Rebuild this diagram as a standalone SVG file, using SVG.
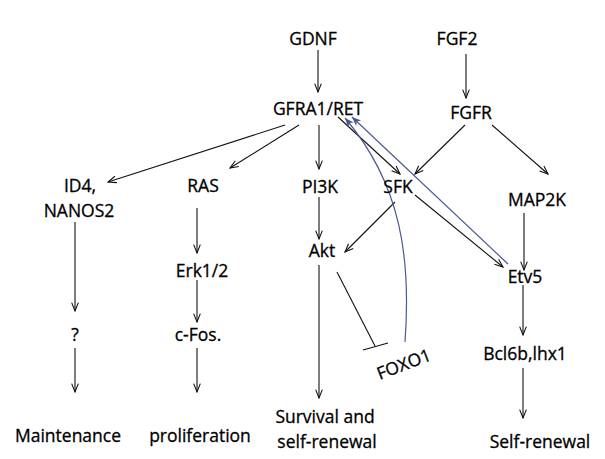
<svg xmlns="http://www.w3.org/2000/svg" width="605" height="459" viewBox="0 0 605 459">
<defs>
<marker id="ah" viewBox="0 0 12 12" refX="11" refY="6" markerWidth="10" markerHeight="10" markerUnits="userSpaceOnUse" orient="auto">
<path d="M1,2 L11,6 L1,10" fill="none" stroke="#111" stroke-width="1.3"/>
</marker>
<marker id="bh" viewBox="0 0 12 12" refX="11" refY="6" markerWidth="10" markerHeight="10" markerUnits="userSpaceOnUse" orient="auto">
<path d="M0,1.5 L11,6 L0,10.5 L3,6 Z" fill="#4a5a94"/>
</marker>
</defs>
<style>
text{font-family:"Open Sans","Liberation Sans",sans-serif;font-size:17.5px;fill:#000;stroke:#000;stroke-width:0.3;text-anchor:middle}
.c line,.c path{stroke:#111;stroke-width:1.1;fill:none}
.c .a{marker-end:url(#ah)}
.c .b{stroke:#4a5a94;stroke-width:1.2;marker-end:url(#bh)}
</style>
<g class="c" id="connectors">
<line class="a" x1="318" y1="50" x2="318" y2="92"/>
<line class="a" x1="466" y1="54" x2="466" y2="98"/>
<line class="a" x1="285" y1="125" x2="108" y2="182"/>
<line class="a" x1="299" y1="125" x2="230" y2="168"/>
<line class="a" x1="319" y1="125" x2="319" y2="169"/>
<line class="a" x1="338" y1="117" x2="400" y2="174"/>
<line class="a" x1="465" y1="125" x2="415" y2="174"/>
<line class="a" x1="492" y1="125" x2="548" y2="174"/>
<line class="a" x1="319" y1="197" x2="319" y2="239"/>
<line class="a" x1="395" y1="202" x2="345" y2="252"/>
<line class="a" x1="415" y1="195" x2="503" y2="267"/>
<line class="a" x1="524" y1="213" x2="524" y2="270"/>
<line class="a" x1="75" y1="222" x2="75" y2="311"/>
<line class="a" x1="75" y1="348" x2="75" y2="392"/>
<line class="a" x1="197" y1="208" x2="197" y2="253"/>
<line class="a" x1="197" y1="280" x2="197" y2="322"/>
<line class="a" x1="197" y1="348" x2="197" y2="392"/>
<line class="a" x1="319" y1="265" x2="319" y2="398"/>
<line class="a" x1="523" y1="285" x2="523" y2="335"/>
<line class="a" x1="523" y1="368" x2="523" y2="418"/>
<line x1="337" y1="272" x2="375" y2="346"/>
<line x1="363" y1="350" x2="388" y2="343"/>
<path class="b" d="M508,264 L352,117"/>
<path class="b" d="M405,342 C411,260 402,185 345,118"/>
</g>
<g id="GDNF"><text x="313" y="45">GDNF</text></g>
<g id="FGF2"><text x="457" y="45">FGF2</text></g>
<g id="GFRA1-RET"><text x="318" y="115">GFRA1/RET</text></g>
<g id="FGFR"><text x="471" y="119">FGFR</text></g>
<g id="ID4-NANOS2"><text x="80" y="192">ID4,</text><text x="79" y="217">NANOS2</text></g>
<g id="RAS"><text x="203" y="192">RAS</text></g>
<g id="PI3K"><text x="320" y="193">PI3K</text></g>
<g id="SFK"><text x="398" y="193">SFK</text></g>
<g id="MAP2K"><text x="537" y="206">MAP2K</text></g>
<g id="Akt"><text x="322" y="257">Akt</text></g>
<g id="Erk"><text x="202" y="277">Erk1/2</text></g>
<g id="Etv5"><text x="525" y="283">Etv5</text></g>
<g id="Q"><text x="75" y="341">?</text></g>
<g id="cFos"><text x="198" y="341">c-Fos.</text></g>
<g id="FOXO1"><text x="0" y="0" transform="translate(406,370) rotate(-21)">FOXO1</text></g>
<g id="Bcl6b"><text x="525" y="360">Bcl6b,lhx1</text></g>
<g id="Maintenance"><text x="68" y="442">Maintenance</text></g>
<g id="proliferation"><text x="200" y="442">proliferation</text></g>
<g id="Survival"><text x="325" y="423">Survival and</text><text x="327" y="448">self-renewal</text></g>
<g id="SelfRenewal"><text x="540" y="448">Self-renewal</text></g>
</svg>
